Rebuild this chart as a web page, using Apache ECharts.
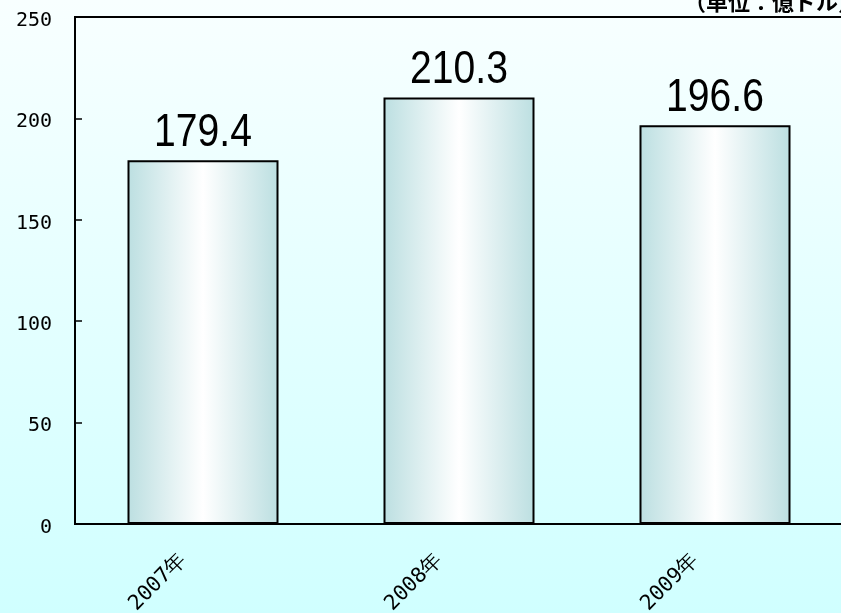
<!DOCTYPE html>
<html>
<head>
<meta charset="utf-8">
<script src="https://cdn.jsdelivr.net/npm/echarts@6/dist/echarts.min.js"></script>
<style>html,body{margin:0;padding:0;}#c{width:841px;height:613px;}</style>
</head>
<body>
<div id="c"></div>
<script>
const categories = ['2007年', '2008年', '2009年'];
const values = [179.4, 210.3, 196.6];
const yTicks = [0, 50, 100, 150, 200, 250];
const unitText = '（単位：億ドル）';

const chart = echarts.init(document.getElementById('c'));
chart.setOption({
  animation: false,
  backgroundColor: {
    type: 'linear', x: 0, y: 0, x2: 0, y2: 1,
    colorStops: [{offset: 0, color: '#f8ffff'}, {offset: 1, color: '#d0ffff'}]
  },
  grid: {left: 75, top: 17, bottom: 89, right: -2, outerBoundsMode: 'none', containLabel: false,
    show: true, borderColor: '#000', borderWidth: 2, backgroundColor: 'transparent'},
  xAxis: {
    type: 'category', data: categories,
    axisLine: {lineStyle: {color: '#000', width: 2}},
    axisTick: {inside: true, length: 6, lineStyle: {color: '#000', width: 1.5}},
    axisLabel: {rotate: 45, margin: 13, padding: [0, 28, 0, 0], fontFamily: '"DejaVu Sans Mono"', fontSize: 21, color: '#000'}
  },
  yAxis: {
    type: 'value', min: 0, max: 250, interval: 50,
    axisLine: {show: true, lineStyle: {color: '#000', width: 2}},
    axisTick: {show: true, inside: true, length: 7, lineStyle: {color: '#000', width: 1.5}},
    splitLine: {show: false},
    axisLabel: {margin: 23, color: '#000',
      formatter: v => yTicks.includes(v) ? '{a|' + v + '}' : '',
      rich: {a: {fontFamily: '"DejaVu Sans Mono"', fontSize: 20, color: '#000', padding: [7, 0, 0, 0]}}}
  },
  series: [{
    type: 'bar', data: values, barWidth: 151,
    itemStyle: {
      borderColor: '#000', borderWidth: 2,
      color: {type: 'linear', x: 0, y: 0, x2: 1, y2: 0,
        colorStops: [{offset: 0, color: '#bcdfe1'}, {offset: 0.5, color: '#ffffff'}, {offset: 1, color: '#bcdfe1'}]}
    }
  }]
});

const graphics = [{
  type: 'text', left: 684, top: -9,
  style: {text: unitText, font: 'bold 22px "Noto Sans CJK JP"', fill: '#000'}
}];
values.forEach((v, i) => {
  const p = chart.convertToPixel({seriesIndex: 0}, [i, v]);
  graphics.push({
    type: 'text', x: p[0], y: p[1] - 4, scaleX: 0.85,
    style: {text: v.toFixed(1), font: '46px "Liberation Sans"', fill: '#000', align: 'center', verticalAlign: 'bottom'}
  });
});
chart.setOption({graphic: graphics});
</script>
</body>
</html>
